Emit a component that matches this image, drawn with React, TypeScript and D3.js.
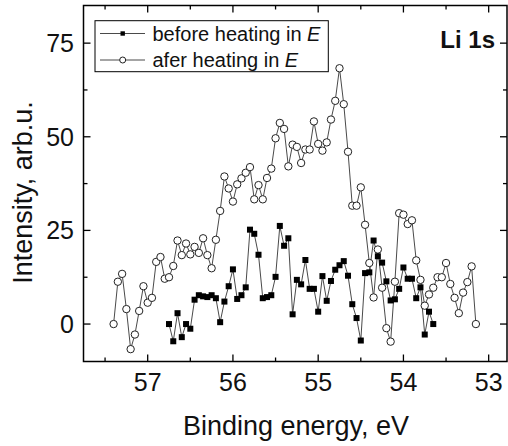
import React from "react";
import * as d3 from "d3";

const afterEnergy = [57.40,57.35,57.30,57.25,57.20,57.15,57.10,57.05,57.00,56.95,56.90,56.85,56.80,56.75,56.70,56.65,56.60,56.55,56.50,56.45,56.40,56.35,56.30,56.25,56.20,56.15,56.10,56.05,56.00,55.95,55.90,55.85,55.80,55.75,55.70,55.65,55.60,55.55,55.50,55.45,55.40,55.35,55.30,55.25,55.20,55.15,55.10,55.05,55.00,54.95,54.90,54.85,54.80,54.75,54.70,54.65,54.60,54.55,54.50,54.45,54.40,54.35,54.30,54.25,54.20,54.15,54.10,54.05,54.00,53.95,53.90,53.85,53.80,53.75,53.70,53.65,53.60,53.55,53.50,53.45,53.40,53.35,53.30,53.25,53.20,53.15];
const afterIntensity = [0,11.3,13.4,4.0,-6.7,-2.8,3.5,10.1,5.7,7.0,16.6,17.9,12.1,12.5,15.5,22.3,18.4,21.5,18.6,20.6,19.0,22.9,18.4,14.9,22.5,30.2,39.4,36.2,32.7,37.3,38.9,40.4,41.9,33.3,37.1,33.3,39.0,41.5,49.6,53.7,52.1,42.1,47.9,47.3,43.0,46.6,46.6,54.1,48.1,46.3,48.5,54.6,59.6,68.3,58.7,46.0,31.6,31.6,36.5,26.5,16.3,7.1,19.9,9.7,-1.1,-4.7,11.3,29.6,29.2,26.7,27.7,17.0,11.8,4.9,7.9,9.7,12.5,12.5,16.3,10.7,7.0,2.9,8.4,11.2,15.4,0];

const beforeEnergy = [56.75,56.70,56.65,56.60,56.55,56.50,56.45,56.40,56.35,56.30,56.25,56.20,56.15,56.10,56.05,56.00,55.95,55.90,55.85,55.80,55.75,55.70,55.65,55.60,55.55,55.50,55.45,55.40,55.35,55.30,55.25,55.20,55.15,55.10,55.05,55.00,54.95,54.90,54.85,54.80,54.75,54.70,54.65,54.60,54.55,54.50,54.45,54.40,54.35,54.30,54.25,54.20,54.15,54.10,54.05,54.00,53.95,53.90,53.85,53.80,53.75,53.70,53.65];
const beforeIntensity = [0,-4.6,2.9,-3.5,0,-1.25,6.5,7.7,7.4,7.2,7.7,6.9,0.5,6.0,10.1,14.6,6.7,7.7,9.8,25.2,24.1,18.5,6.9,7.2,7.7,12.6,26.2,20.9,22.9,2.6,11.8,10.6,17.1,9.4,9.4,3.3,12.8,6.2,11.5,14.5,15.7,16.8,12.9,5.3,1.6,-4.4,13.6,13.8,22.3,18.1,16.4,11.4,6.3,6.6,9.4,15.1,12.1,12.1,6.9,9.8,-2.8,3.3,0];

const xMajorTicks = [57, 56, 55, 54, 53];
const xMinorTicks = [57.5, 56.5, 55.5, 54.5, 53.5];
const yMajorTicks = [0, 25, 50, 75];
const yMinorTicks = [12.5, 37.5, 62.5];

const seriesLabels = ["before heating in ", "afer heating in "];

const W = 508, H = 446;
const L = 83.5, R = 507, T = 5.5, B = 361.5;
const FONT = "Arial, 'Liberation Sans', sans-serif";

export default function App() {
  const x = d3.scaleLinear().domain([57.753, 52.785]).range([L, R]);
  const y = d3.scaleLinear().domain([-10, 85.05]).range([B, T]);
  const line = d3.line<number>();
  const afterPts = afterEnergy.map((e, i) => [x(e), y(afterIntensity[i])] as [number, number]);
  const beforePts = beforeEnergy.map((e, i) => [x(e), y(beforeIntensity[i])] as [number, number]);
  const lineColor = "#4a4a4a";
  const maj = 7, min = 4;

  return (
    <svg width={W} height={H} style={{ position: "absolute", left: 0, top: 0, background: "#fff" }} fontFamily={FONT}>
      <rect x={0} y={0} width={W} height={H} fill="#fff" />
      <path d={line(afterPts) || ""} fill="none" stroke={lineColor} strokeWidth={1} />
      <path d={line(beforePts) || ""} fill="none" stroke={lineColor} strokeWidth={1} />
      {afterPts.map((p, i) => (
        <circle key={"a" + i} cx={p[0]} cy={p[1]} r={3.7} fill="#fff" stroke="#222" strokeWidth={1} />
      ))}
      {beforePts.map((p, i) => (
        <rect key={"b" + i} x={p[0] - 3} y={p[1] - 3} width={6} height={6} fill="#000" />
      ))}
      <rect x={L} y={T} width={R - L} height={B - T} fill="none" stroke="#000" strokeWidth={1.5} />
      {xMajorTicks.map((t) => (
        <g key={"xm" + t}>
          <line x1={x(t)} x2={x(t)} y1={B} y2={B - maj} stroke="#000" strokeWidth={1.3} />
          <line x1={x(t)} x2={x(t)} y1={T} y2={T + maj} stroke="#000" strokeWidth={1.3} />
          <text x={x(t)} y={391} textAnchor="middle" fontSize={25} fill="#111">{t}</text>
        </g>
      ))}
      {xMinorTicks.map((t) => (
        <g key={"xn" + t}>
          <line x1={x(t)} x2={x(t)} y1={B} y2={B - min} stroke="#000" strokeWidth={1.3} />
          <line x1={x(t)} x2={x(t)} y1={T} y2={T + min} stroke="#000" strokeWidth={1.3} />
        </g>
      ))}
      {yMajorTicks.map((t) => (
        <g key={"ym" + t}>
          <line x1={L} x2={L + maj} y1={y(t)} y2={y(t)} stroke="#000" strokeWidth={1.3} />
          <line x1={R} x2={R - maj} y1={y(t)} y2={y(t)} stroke="#000" strokeWidth={1.3} />
          <text x={74} y={y(t)} dy="0.35em" textAnchor="end" fontSize={25} fill="#111">{t}</text>
        </g>
      ))}
      {yMinorTicks.map((t) => (
        <g key={"yn" + t}>
          <line x1={L} x2={L + min} y1={y(t)} y2={y(t)} stroke="#000" strokeWidth={1.3} />
          <line x1={R} x2={R - min} y1={y(t)} y2={y(t)} stroke="#000" strokeWidth={1.3} />
        </g>
      ))}
      <text x={296} y={435} textAnchor="middle" fontSize={27} fill="#111">Binding energy, eV</text>
      <text transform={`translate(31.5,192.5) rotate(-90)`} textAnchor="middle" fontSize={27} fill="#111">Intensity, arb.u.</text>
      <text x={495} y={48} textAnchor="end" fontSize={24} fontWeight="bold" fill="#111">Li 1s</text>
      <rect x={95} y={20.7} width={233.3} height={51} fill="#fff" stroke="#000" strokeWidth={1} />
      <line x1={100} x2={145} y1={33.5} y2={33.5} stroke={lineColor} strokeWidth={1} />
      <rect x={120.5} y={31.3} width={4.4} height={4.4} fill="#000" />
      <text x={152.5} y={40.5} fontSize={20} fill="#111">{seriesLabels[0]}<tspan fontStyle="italic">E</tspan></text>
      <line x1={100} x2={145} y1={60} y2={60} stroke={lineColor} strokeWidth={1} />
      <circle cx={122.7} cy={60} r={3} fill="#fff" stroke="#222" strokeWidth={1} />
      <text x={152.5} y={66.5} fontSize={20} fill="#111">{seriesLabels[1]}<tspan fontStyle="italic">E</tspan></text>
    </svg>
  );
}
